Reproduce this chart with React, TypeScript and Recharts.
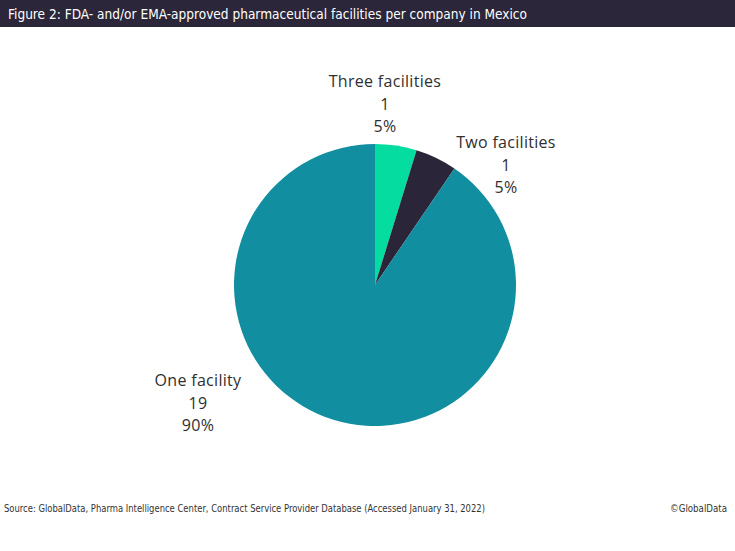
import React from 'react';
import { PieChart, Pie, Cell } from 'recharts';

const categories = ['Three facilities', 'Two facilities', 'One facility'];
const counts = [1, 1, 19];
const percentLabels = ['5%', '5%', '90%'];
const sliceColors = ['#05dca0', '#2a2538', '#118e9f'];

// where Excel had placed each label, relative to the pie centre
const labelOffsets = [
  { dx: 10, dy: -182 },
  { dx: 131, dy: -121 },
  { dx: -177, dy: 117 },
];

const title = 'Figure 2: FDA- and/or EMA-approved pharmaceutical facilities per company in Mexico';
const source = 'Source: GlobalData, Pharma Intelligence Center, Contract Service Provider Database (Accessed January 31, 2022)';
const credit = '©GlobalData';

const data = categories.map((name, i) => ({ name, value: counts[i], pct: percentLabels[i] }));

const labelFont = '"Open Sans", "Noto Sans", sans-serif';
const narrowFont = '"Liberation Sans Narrow", "DejaVu Sans Condensed", sans-serif';

function renderLabel(props: any) {
  const { cx, cy, index } = props;
  const off = labelOffsets[index];
  const x = cx + off.dx;
  const y = cy + off.dy;
  const d = data[index];
  return (
    <text x={x} y={y} textAnchor="middle" fill="#2f2f2f" fontFamily={labelFont} fontSize={16} letterSpacing={0.3}>
      <tspan x={x} dy={-22} dominantBaseline="central">{d.name}</tspan>
      <tspan x={x} dy={22.5} dominantBaseline="central">{d.value}</tspan>
      <tspan x={x} dy={22.5} dominantBaseline="central">{d.pct}</tspan>
    </text>
  );
}

export default function App() {
  return (
    <div style={{ position: 'absolute', left: 0, top: 0, width: 735, height: 551, background: '#fff', overflow: 'hidden' }}>
      <svg width={735} height={551} style={{ position: 'absolute', left: 0, top: 0 }}>
        <rect x={0} y={0} width={735} height={27} fill="#2b2639" />
        <text x={8} y={19} fill="#ffffff" fontFamily={narrowFont} fontSize={14.5} textLength={519} lengthAdjust="spacingAndGlyphs">
          {title}
        </text>
        <text x={4} y={512} fill="#333" fontFamily={narrowFont} fontSize={11} textLength={481} lengthAdjust="spacingAndGlyphs">
          {source}
        </text>
        <text x={670} y={512} fill="#333" fontFamily={narrowFont} fontSize={11} textLength={57} lengthAdjust="spacingAndGlyphs">
          {credit}
        </text>
      </svg>
      <div style={{ position: 'absolute', left: 0, top: 0 }}>
        <PieChart width={735} height={551} margin={{ top: 0, right: 0, bottom: 0, left: 0 }}>
          <Pie
            data={data}
            dataKey="value"
            nameKey="name"
            cx={375}
            cy={285}
            outerRadius={141}
            startAngle={90}
            endAngle={-270}
            stroke="none"
            label={renderLabel}
            labelLine={false}
            isAnimationActive={false}
          >
            {data.map((entry, index) => (
              <Cell key={`cell-${index}`} fill={sliceColors[index]} />
            ))}
          </Pie>
        </PieChart>
      </div>
    </div>
  );
}
